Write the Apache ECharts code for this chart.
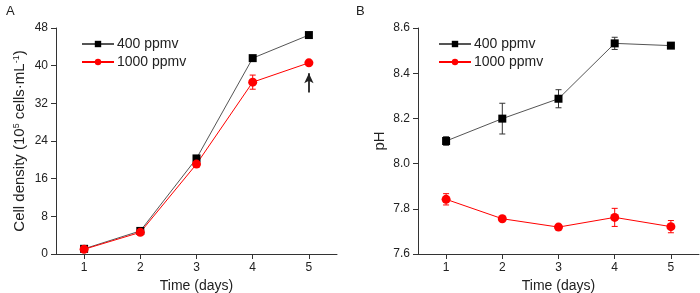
<!DOCTYPE html>
<html>
<head>
<meta charset="utf-8">
<script src="https://cdn.jsdelivr.net/npm/echarts@6/dist/echarts.min.js"></script>
<style>
html,body{margin:0;padding:0;background:#fff;}
#main{width:700px;height:293px;}
</style>
</head>
<body>
<div id="main"></div>
<script>
// days
var days = [1, 2, 3, 4, 5];

// panel A - cell density (10^5 cells/mL)
var density400 = [1.1, 4.9, 20.3, 41.6, 46.5];
var density400Err = [0.2, 0.3, 0.5, 0.3, 0.3];
var density1000 = [1.0, 4.6, 19.1, 36.5, 40.6];
var density1000Err = [0.2, 0.3, 0.6, 1.5, 0.3];

// panel B - pH
var ph400 = [8.100, 8.199, 8.287, 8.532, 8.522];
var ph400Err = [0.019, 0.068, 0.040, 0.027, 0.006];
var ph1000 = [7.842, 7.756, 7.719, 7.762, 7.721];
var ph1000Err = [0.025, 0.005, 0.008, 0.040, 0.027];

// arrow on day 5 (panel A)
var arrowFrom = [5, 34.3];
var arrowTo = [5, 38.4];

function pairs(x, y) {
  return x.map(function (d, i) { return [d, y[i]]; });
}
function errPairs(x, y, e) {
  return x.map(function (d, i) { return [d, y[i] - e[i], y[i] + e[i]]; });
}

function errorSeries(name, data, color, idx) {
  return {
    name: name,
    type: 'custom',
    xAxisIndex: idx,
    yAxisIndex: idx,
    silent: true,
    z: 1,
    renderItem: function (params, api) {
      var lo = api.coord([api.value(0), api.value(1)]);
      var hi = api.coord([api.value(0), api.value(2)]);
      var w = 3;
      var st = { stroke: color, lineWidth: 1 };
      return {
        type: 'group',
        children: [
          { type: 'line', shape: { x1: lo[0], y1: lo[1], x2: hi[0], y2: hi[1] }, style: st },
          { type: 'line', shape: { x1: lo[0] - w, y1: lo[1], x2: lo[0] + w, y2: lo[1] }, style: st },
          { type: 'line', shape: { x1: hi[0] - w, y1: hi[1], x2: hi[0] + w, y2: hi[1] }, style: st }
        ]
      };
    },
    data: data
  };
}

var black = '#000';
var red = '#ff0000';
var axisCol = '#333';
var font = 'Liberation Sans, Arial, sans-serif';

function xAx(idx) {
  return {
    type: 'value', gridIndex: idx, min: 0.5, max: 5.5,
    name: 'Time (days)', nameLocation: 'middle', nameGap: 20,
    nameTextStyle: { fontSize: 14, color: '#222', fontFamily: font },
    axisLine: { show: true, onZero: false, lineStyle: { color: axisCol, width: 1 } },
    axisTick: { show: true, length: 5, inside: false, customValues: days, lineStyle: { color: axisCol } },
    axisLabel: { fontSize: 12, color: '#222', fontFamily: font, margin: 8, customValues: days },
    splitLine: { show: false }
  };
}

function legendCfg(names, left) {
  return {
    data: names.map(function (n) { return { name: n }; }),
    orient: 'vertical', left: left, top: 32, itemWidth: 32, itemHeight: 8, itemGap: 4,
    textStyle: { fontSize: 14, color: '#222', fontFamily: font, padding: [0, 0, 0, -2] },
    selectedMode: false
  };
}

var chart = echarts.init(document.getElementById('main'));
chart.setOption({
  backgroundColor: '#fff',
  animation: false,
  textStyle: { fontFamily: font },
  title: [
    { text: 'A', left: 1, top: 0, textStyle: { fontSize: 13, fontWeight: 'normal', color: '#222', fontFamily: font } },
    { text: 'B', left: 351, top: 0, textStyle: { fontSize: 13, fontWeight: 'normal', color: '#222', fontFamily: font } }
  ],
  legend: [
    legendCfg(['400 ppmv', '1000 ppmv'], 76),
    legendCfg(['400 ppmv ', '1000 ppmv '], 433)
  ],
  grid: [
    { left: 56, right: 363, top: 28, bottom: 39, containLabel: false, outerBoundsMode: 'none' },
    { left: 418, right: 1, top: 28, bottom: 39, containLabel: false, outerBoundsMode: 'none' }
  ],
  xAxis: [xAx(0), xAx(1)],
  yAxis: [
    {
      type: 'value', gridIndex: 0, min: 0, max: 48, interval: 8,
      name: '{n|Cell density (10}{s|5}{n| cells·mL}{s|-1}{n|)}',
      nameLocation: 'middle', nameGap: 28, nameRotate: 90,
      nameTextStyle: {
        rich: {
          n: { fontSize: 15, color: '#222', fontFamily: font },
          s: { fontSize: 9, color: '#222', fontFamily: font, verticalAlign: 'top', padding: [0, 0, 7, 0] }
        }
      },
      axisLine: { show: true, lineStyle: { color: axisCol, width: 1 } },
      axisTick: { show: true, length: 5, lineStyle: { color: axisCol } },
      axisLabel: { fontSize: 12, color: '#222', fontFamily: font, margin: 8 },
      splitLine: { show: false }
    },
    {
      type: 'value', gridIndex: 1, min: 7.6, max: 8.6, interval: 0.2,
      name: 'pH', nameLocation: 'middle', nameGap: 31, nameRotate: 90,
      nameTextStyle: { fontSize: 15, color: '#222', fontFamily: font },
      axisLine: { show: true, lineStyle: { color: axisCol, width: 1 } },
      axisTick: { show: true, length: 5, lineStyle: { color: axisCol } },
      axisLabel: { fontSize: 12, color: '#222', fontFamily: font, margin: 8,
        formatter: function (v) { return v.toFixed(1); } },
      splitLine: { show: false }
    }
  ],
  series: [
    errorSeries('e400a', errPairs(days, density400, density400Err), '#333', 0),
    errorSeries('e1000a', errPairs(days, density1000, density1000Err), red, 0),
    {
      name: '400 ppmv', type: 'line', xAxisIndex: 0, yAxisIndex: 0,
      data: pairs(days, density400), symbol: 'rect', symbolSize: 8,
      itemStyle: { color: black }, lineStyle: { color: '#555', width: 1 }, z: 3
    },
    {
      name: '1000 ppmv', type: 'line', xAxisIndex: 0, yAxisIndex: 0,
      data: pairs(days, density1000), symbol: 'circle', symbolSize: 9,
      itemStyle: { color: red }, lineStyle: { color: red, width: 1 }, z: 3,
      markLine: {
        silent: true, symbol: ['none', 'arrow'], symbolSize: [7, 10],
        label: { show: false },
        lineStyle: { color: '#222', width: 1.8, type: 'solid' },
        data: [[{ coord: arrowFrom }, { coord: arrowTo }]]
      }
    },
    errorSeries('e400b', errPairs(days, ph400, ph400Err), '#333', 1),
    errorSeries('e1000b', errPairs(days, ph1000, ph1000Err), red, 1),
    {
      name: '400 ppmv ', type: 'line', xAxisIndex: 1, yAxisIndex: 1,
      data: pairs(days, ph400), symbol: 'rect', symbolSize: 8,
      itemStyle: { color: black }, lineStyle: { color: '#555', width: 1 }, z: 3
    },
    {
      name: '1000 ppmv ', type: 'line', xAxisIndex: 1, yAxisIndex: 1,
      data: pairs(days, ph1000), symbol: 'circle', symbolSize: 9,
      itemStyle: { color: red }, lineStyle: { color: red, width: 1 }, z: 3
    }
  ]
});
</script>
</body>
</html>
